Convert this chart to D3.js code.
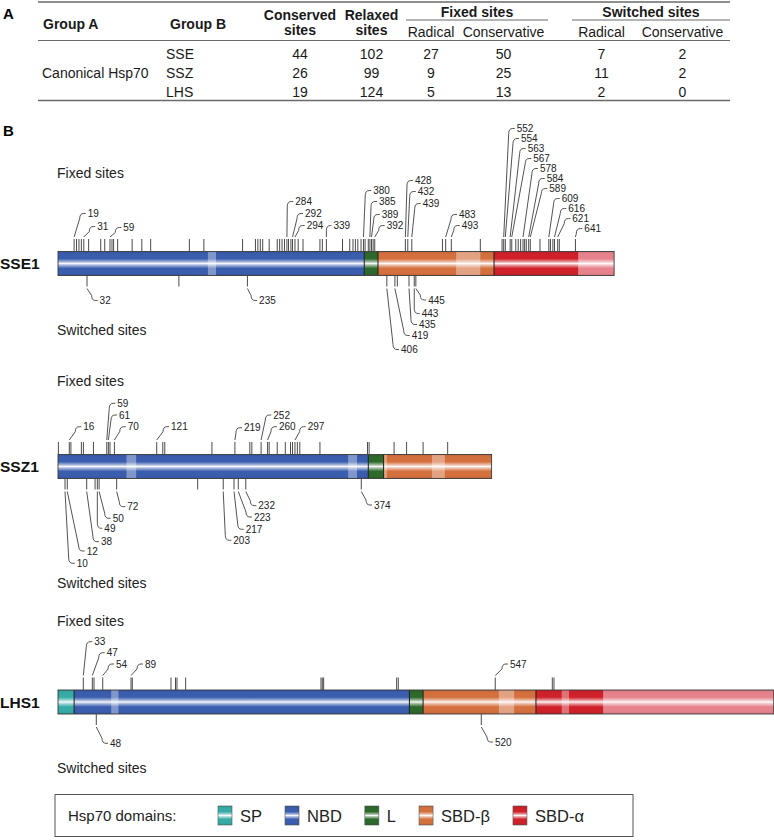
<!DOCTYPE html>
<html><head><meta charset="utf-8">
<script src="https://cdn.jsdelivr.net/npm/d3@7"></script>
<style>body{margin:0;background:#fff} text{font-family:"Liberation Sans",Arial,Helvetica,sans-serif}</style>
</head><body><svg id="c" width="774" height="840"></svg>
<script>
// ---------------- Table data ----------------
const groupA = "Canonical Hsp70";
const groupB = ["SSE", "SSZ", "LHS"];
const conservedSites = [44, 26, 19];
const relaxedSites = [102, 99, 124];
const fixedRadical = [27, 9, 5];
const fixedConservative = [50, 25, 13];
const switchedRadical = [7, 11, 2];
const switchedConservative = [2, 2, 0];

// ---------------- Domain map data (alignment positions) ----------------
const domainNames = ["SP", "NBD", "L", "SBD-β", "SBD-α"];
const sse1Domains = [["NBD",0,380],["L",380,397],["SBD-β",397,541],["SBD-α",541,646],["tail",646,690]];
const ssz1Domains = [["NBD",0,385],["L",385,404],["SBD-β",404,538]];
const lhs1Domains = [["SP",0,20],["NBD",20,436],["L",436,453],["SBD-β",453,593],["SBD-α",593,677],["tail",677,888]];
const sse1Bands = [[186,196],[494,524]];
const ssz1Bands = [[85,97],[360,371],[404,408],[464,480]];
const lhs1Bands = [[66,75],[547,566],[625,634]];

const sse1Fixed = [20,23,26,29,32,38,53,58,64.5,67,69,74,92,104,115,163,181,229,245,248,251,254,262,272,275,278,281,284,286,289,291,294,298,304,325,328,333,353,362,366,369,372,376,379,381,385,387,389,391,393,431,434,439,477,481,488,524,551,553,555,561,563,568,571,574,577,579,581,584,586,598,609,611,614,616,620,622,642];
const sse1Switched = [36,150,235,408,418,421,435.5,442,444];
const ssz1Fixed = [0.5,14,16,29,31.5,44,60.5,62.5,64.5,70,122.5,130,132.5,191,219.5,238,240.5,252,260,262,272,282,288.5,291,294,297,300,325,384,386,417,432.5,453,483.5];
const ssz1Switched = [8.7,11.5,35.6,46,48.8,51,72.8,173.3,205,218.4,223.7,233,376.3];
const lhs1Fixed = [31.4,42.6,44.7,55.5,90.6,92.2,140.2,145.8,147.6,158.4,326.3,327.9,329.6,420.2,422.2,542.5,613.3,615.4];
const lhs1Switched = [47.5,525.2];

// labels: [text, alignment position]
const sse1FixedLabels = [["19",20],["31",32],["59",64.5],["284",284],["292",291],["294",294],["339",333],["380",379],["385",387],["389",389],["392",393],["428",431],["432",434],["439",439],["483",481],["493",488],["552",553],["554",555],["563",561],["567",563],["578",577],["584",584],["589",586],["609",609],["616",616],["621",620],["641",642]];
const sse1SwitchedLabels = [["32",36],["235",235],["406",408],["419",418],["435",435.5],["443",442],["445",444]];
const ssz1FixedLabels = [["16",14],["59",60.5],["61",62.5],["70",70],["121",122.5],["219",219.5],["252",252],["260",260],["297",294]];
const ssz1SwitchedLabels = [["10",8.7],["12",11.5],["38",35.6],["49",48.8],["50",51],["72",72.8],["203",205],["217",218.4],["223",223.7],["232",233],["374",376.3]];
const lhs1FixedLabels = [["33",31.4],["47",42.6],["54",55.5],["89",90.6],["547",542.5]];
const lhs1SwitchedLabels = [["48",47.5],["520",525.2]];

// ---------------- Layout (label placement offsets, px) ----------------
const sse1FixedOff = [[13.6,38],[13.5,25],[13.3,24],[8.4,50],[12.5,38],[11.7,26],[7,26],[9.8,61],[9.1,50],[10.2,37],[11.9,26],[9.6,71],[9.9,60],[10.9,48],[13.3,37],[10.4,26],[13,123],[15.7,113],[17.5,103],[21.5,93],[16.9,83],[18,73],[19,63],[12.8,53],[13.8,43],[14.6,33],[8.9,23]];
const sse1SwitchedOff = [[12.6,25],[11.7,25],[14.2,74],[16.8,60],[10,49],[7.4,38],[12.4,24.5]];
const ssz1FixedOff = [[14,27.8],[10.5,51.2],[10.6,39.5],[13.3,27.8],[14.3,27.8],[9.1,26.8],[12.2,39.5],[11.4,27.8],[12.7,27.8]];
const ssz1SwitchedOff = [[11.7,84.8],[19.4,72.5],[14.3,63.2],[7,49.8],[13.6,39.8],[10.6,28.2],[10.1,61.8],[11.7,50.8],[15.7,38.5],[12.5,27.2],[12.7,26.5]];
const lhs1FixedOff = [[11,48.3],[14.4,37.3],[13.3,26],[14,26],[14.7,26]];
const lhs1SwitchedOff = [[13.7,29.3],[13.7,28]];

const proteins = [
  {name:"SSE1", domains:sse1Domains, bands:sse1Bands, fixed:sse1Fixed, switched:sse1Switched,
   fixedLabels:sse1FixedLabels, switchedLabels:sse1SwitchedLabels, fOff:sse1FixedOff, sOff:sse1SwitchedOff,
   top:251.5, fixedY:173, switchedY:330},
  {name:"SSZ1", domains:ssz1Domains, bands:ssz1Bands, fixed:ssz1Fixed, switched:ssz1Switched,
   fixedLabels:ssz1FixedLabels, switchedLabels:ssz1SwitchedLabels, fOff:ssz1FixedOff, sOff:ssz1SwitchedOff,
   top:454.5, fixedY:381, switchedY:583},
  {name:"LHS1", domains:lhs1Domains, bands:lhs1Bands, fixed:lhs1Fixed, switched:lhs1Switched,
   fixedLabels:lhs1FixedLabels, switchedLabels:lhs1SwitchedLabels, fOff:lhs1FixedOff, sOff:lhs1SwitchedOff,
   top:690, fixedY:621, switchedY:768}
];

const colors = {"SP":"#35aba5","NBD":"#3a5dae","L":"#2d692b","SBD-β":"#d46f3e","SBD-α":"#cf212a","tail":"#e5828b"};

const svg = d3.select("#c");
const defs = svg.append("defs");
function makeGrad(id, base){
  const g = defs.append("linearGradient").attr("id", id).attr("x1",0).attr("y1",0).attr("x2",0).attr("y2",1);
  const w = t => d3.interpolateRgb(base, "#ffffff")(t);
  const dk = d3.color(base).darker(0.25).formatHex();
  [[0,dk],[0.12,base],[0.3,base],[0.43,w(0.55)],[0.5,w(0.95)],[0.57,w(0.55)],[0.7,base],[0.88,base],[1,dk]]
    .forEach(([o,c]) => g.append("stop").attr("offset", o).attr("stop-color", c));
}
Object.entries(colors).forEach(([k,c], i) => makeGrad("g"+i, c));
const gradId = k => "url(#g" + Object.keys(colors).indexOf(k) + ")";

// ---------------- Panel A: table ----------------
const T = svg.append("g");
const tx = d => T.append("text").attr("dominant-baseline","central").attr("fill","#1a1a1a").style("font-size","14px");
svg.append("text").attr("x",3).attr("y",13).attr("dominant-baseline","central").style("font-size","15px").style("font-weight","bold").text("A");
const hline = (x1,x2,y,w) => T.append("line").attr("x1",x1).attr("x2",x2).attr("y1",y).attr("y2",y).attr("stroke","#6a6a6a").attr("stroke-width",w);
hline(38,730,2,1.5); hline(38,730,40.5,1); hline(38,730,100.5,1.5);
hline(406,548,20,1); hline(572,730,20,1);
tx().attr("x",43).attr("y",24).style("font-weight","bold").text("Group A");
tx().attr("x",170).attr("y",24).style("font-weight","bold").text("Group B");
const colX = [300, 371.5, 431, 503.5, 601.5, 682.5];
[["Conserved","sites"],["Relaxed","sites"]].forEach((t,i) => {
  tx().attr("x",colX[i]).attr("y",15).attr("text-anchor","middle").style("font-weight","bold").text(t[0]);
  tx().attr("x",colX[i]).attr("y",30).attr("text-anchor","middle").style("font-weight","bold").text(t[1]);
});
tx().attr("x",477).attr("y",11.5).attr("text-anchor","middle").style("font-weight","bold").text("Fixed sites");
tx().attr("x",651).attr("y",11.5).attr("text-anchor","middle").style("font-weight","bold").text("Switched sites");
["Radical","Conservative","Radical","Conservative"].forEach((t,i) =>
  tx().attr("x",colX[i+2]).attr("y",31.5).attr("text-anchor","middle").text(t));
const rowY = d3.scalePoint().domain(groupB).range([53.5, 91.5]);
tx().attr("x",42).attr("y",rowY("SSZ")).text(groupA);
groupB.forEach((g,i) => {
  tx().attr("x",166).attr("y",rowY(g)).text(g);
  [conservedSites, relaxedSites, fixedRadical, fixedConservative, switchedRadical, switchedConservative]
    .forEach((arr,j) => tx().attr("x",colX[j]).attr("y",rowY(g)).attr("text-anchor","middle").text(arr[i]));
});

// ---------------- Panel B: domain maps ----------------
svg.append("text").attr("x",3).attr("y",130).attr("dominant-baseline","central").style("font-size","15px").style("font-weight","bold").text("B");
const x = d3.scaleLinear().domain([0, 888]).range([58, 773.7]);
const barH = 24, tickTop = 12.5, tickBot = 11;

proteins.forEach(p => {
  const top = p.top, bot = top + barH;
  const g = svg.append("g");
  g.append("text").attr("x",0).attr("y",top+barH/2).attr("dominant-baseline","central")
    .style("font-size","15.5px").style("font-weight","bold").attr("fill","#111").text(p.name);
  g.append("text").attr("x",57).attr("y",p.fixedY).attr("dominant-baseline","central").style("font-size","14px").attr("fill","#222").text("Fixed sites");
  g.append("text").attr("x",57).attr("y",p.switchedY).attr("dominant-baseline","central").style("font-size","14px").attr("fill","#222").text("Switched sites");

  // domains
  g.selectAll("rect.dom").data(p.domains).join("rect").attr("class","dom")
    .attr("x", d => x(d[1])).attr("width", d => x(d[2]) - x(d[1]))
    .attr("y", top).attr("height", barH).attr("fill", d => gradId(d[0]));
  g.selectAll("rect.band").data(p.bands).join("rect").attr("class","band")
    .attr("x", d => x(d[0])).attr("width", d => x(d[1]) - x(d[0]))
    .attr("y", top).attr("height", barH).attr("fill", "#fff").attr("opacity", 0.36);
  g.selectAll("line.sep").data(p.domains.slice(1).filter(d => d[0] !== "tail")).join("line").attr("class","sep")
    .attr("x1", d => x(d[1])).attr("x2", d => x(d[1])).attr("y1", top).attr("y2", bot)
    .attr("stroke","#1c1c1c").attr("stroke-width",1);
  const last = p.domains[p.domains.length-1][2];
  g.append("rect").attr("x", x(0)).attr("y", top).attr("width", x(last)-x(0)).attr("height", barH)
    .attr("fill","none").attr("stroke","#3a3a3a").attr("stroke-width",0.9);

  // ticks
  g.selectAll("line.ft").data(p.fixed).join("line").attr("class","ft")
    .attr("x1", d => x(d)).attr("x2", d => x(d)).attr("y1", top - tickTop).attr("y2", top)
    .attr("stroke","#4a4a4a").attr("stroke-width",1);
  g.selectAll("line.st").data(p.switched).join("line").attr("class","st")
    .attr("x1", d => x(d)).attr("x2", d => x(d)).attr("y1", bot).attr("y2", bot + tickBot)
    .attr("stroke","#4a4a4a").attr("stroke-width",1);

  // labels with leaders
  function leaders(labels, offs, up){
    labels.forEach((l, i) => {
      const px = x(l[1]), tX = px + offs[i][0];
      const ly = up ? top - offs[i][1] : bot + offs[i][1];
      const y0 = up ? top - tickTop - 2 : bot + tickBot + 2;
      let hx = Math.max(px, tX - 8);
      const s = up ? 5 : -5;
      const path = `M${px},${y0} L${hx},${ly + s} Q${hx},${ly} ${hx + 4},${ly} L${tX - 2},${ly}`;
      g.append("path").attr("d", path).attr("fill","none").attr("stroke","#3f3f3f").attr("stroke-width",0.9);
      g.append("text").attr("x", tX).attr("y", ly).attr("dominant-baseline","central")
        .style("font-size","10px").attr("fill","#222").text(l[0]);
    });
  }
  leaders(p.fixedLabels, p.fOff, true);
  leaders(p.switchedLabels, p.sOff, false);
});

// ---------------- Legend ----------------
const L = svg.append("g");
L.append("rect").attr("x",55).attr("y",794.5).attr("width",578).attr("height",42)
  .attr("fill","none").attr("stroke","#555").attr("stroke-width",1);
L.append("text").attr("x",68).attr("y",815.5).attr("dominant-baseline","central").style("font-size","15px").attr("fill","#222").text("Hsp70 domains:");
let lx = 218;
domainNames.forEach(n => {
  L.append("rect").attr("x",lx).attr("y",806).attr("width",14).attr("height",19)
    .attr("fill", gradId(n)).attr("stroke","#555").attr("stroke-width",0.6);
  const t = L.append("text").attr("x",lx+22).attr("y",815.5).attr("dominant-baseline","central")
    .style("font-size","16.5px").attr("fill","#222").text(n);
  lx += 22 + t.node().getComputedTextLength() + 23;
});
</script></body></html>
